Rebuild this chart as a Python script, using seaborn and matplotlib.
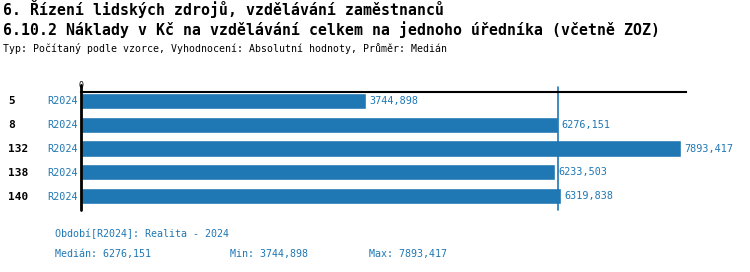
import matplotlib
matplotlib.use("Agg")
import matplotlib.pyplot as plt
import seaborn as sns
import pandas as pd

# data
categories = ["5", "8", "132", "138", "140"]
series = ["R2024", "R2024", "R2024", "R2024", "R2024"]
values = [3744.898, 6276.151, 7893.417, 6233.503, 6319.838]
median_val = 6276.151
min_val = 3744.898
max_val = 7893.417

title1 = "6. Řízení lidských zdrojů, vzdělávání zaměstnanců"
title2 = "6.10.2 Náklady v Kč na vzdělávání celkem na jednoho úředníka (včetně ZOZ)"
subtitle = "Typ: Počítaný podle vzorce, Vyhodnocení: Absolutní hodnoty, Průměr: Medián"
period = "Období[R2024]: Realita - 2024"

def fmt(v):
    return f"{v:.3f}".replace(".", ",")

sns.set_theme(style="white")
plt.rcParams['font.family'] = ['DejaVu Sans Mono', 'DejaVu Sans']

W, H = 750, 272
fig = plt.figure(figsize=(7.5, 2.72), dpi=100)
x0, x1 = 81, 686
y0, y1 = 92, 210
ax = fig.add_axes([x0 / W, 1 - y1 / H, (x1 - x0) / W, (y1 - y0) / H])

df = pd.DataFrame({"cat": categories, "val": values})
blue = "#1f77b4"
sns.barplot(data=df, x="val", y="cat", orient="h", color=blue, width=0.68,
            saturation=1, ax=ax, order=categories)
ax.set_xlim(0, 7960)
ax.set_ylim(4.58, -0.375)
ax.set_xlabel("")
ax.set_ylabel("")
ax.set_xticks([])
ax.set_yticks([])
for s in ["right", "bottom", "left"]:
    ax.spines[s].set_visible(False)
ax.spines["top"].set_color("black")
ax.spines["top"].set_linewidth(1.5)

# left axis line
ax.axvline(0, ymin=0, ymax=1 + 7 / (y1 - y0), color="black", lw=2, clip_on=False)
# median line
ax.axvline(median_val, ymin=0, ymax=1 + 5 / (y1 - y0), color=blue, lw=1.2, clip_on=False)

ax.text(0, 1.02, "0", transform=ax.get_xaxis_transform(), ha="center", va="bottom",
        fontsize=6, color="black")

for i, (c, s, v) in enumerate(zip(categories, series, values)):
    ax.text(v + 45, i, fmt(v), va="center", ha="left", fontsize=7.3, color=blue)
    fig.text(8 / W, 1 - (101 + 24 * i) / H, c, va="center", ha="left",
             fontsize=8, fontweight="bold", color="black")
    fig.text(47 / W, 1 - (101 + 24 * i) / H, s, va="center", ha="left",
             fontsize=7.3, color=blue)

fig.text(3 / W, 1 - 9 / H, title1, va="center", ha="left", fontsize=10.7,
         fontweight="bold", color="black")
fig.text(3 / W, 1 - 30 / H, title2, va="center", ha="left", fontsize=10.7,
         fontweight="bold", color="black")
fig.text(3 / W, 1 - 49 / H, subtitle, va="center", ha="left", fontsize=7.15,
         color="black")

fig.text(55 / W, 1 - 234 / H, period, va="center", ha="left", fontsize=7.2, color=blue)
fig.text(55 / W, 1 - 254 / H, "Medián: " + fmt(median_val), va="center", ha="left",
         fontsize=7.2, color=blue)
fig.text(230 / W, 1 - 254 / H, "Min: " + fmt(min_val), va="center", ha="left",
         fontsize=7.2, color=blue)
fig.text(369 / W, 1 - 254 / H, "Max: " + fmt(max_val), va="center", ha="left",
         fontsize=7.2, color=blue)

fig.savefig("out.png", dpi=100)
